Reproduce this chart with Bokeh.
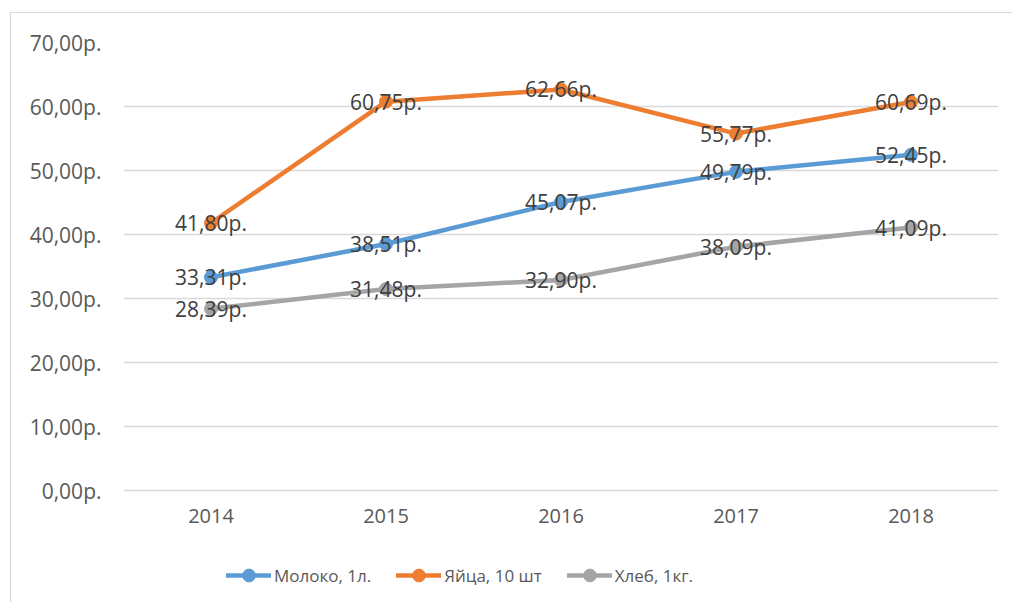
from bokeh.plotting import figure
from bokeh.models import (ColumnDataSource, Range1d, FixedTicker, Legend, LegendItem)
from bokeh.core.properties import value
from bokeh.embed import file_html
from bokeh.resources import INLINE

years = ["2014", "2015", "2016", "2017", "2018"]
milk = [33.31, 38.51, 45.07, 49.79, 52.45]
eggs = [41.80, 60.75, 62.66, 55.77, 60.69]
bread = [28.39, 31.48, 32.90, 38.09, 41.09]
series_names = ["Молоко, 1л.", "Яйца, 10 шт", "Хлеб, 1кг."]
colors = ["#5B9BD5", "#ED7D31", "#A5A5A5"]
y_ticks = [0, 10, 20, 30, 40, 50, 60, 70]

def rub(v):
    return f"{v:.2f}".replace(".", ",") + "р."

FONT = "Open Sans"
H = 590
TOP = 29
PX_PER_UNIT = 6.4
y_low = 70 - (H - TOP) / PX_PER_UNIT   # frame reaches the bottom, room for axis + legend

p = figure(x_range=years, y_range=Range1d(y_low, 70), width=1002, height=H,
           output_backend="svg", toolbar_location=None,
           min_border_left=112, min_border_right=15, min_border_top=TOP, min_border_bottom=0)
p.styles = {"margin-left": "10px", "margin-top": "12px",
            "border-left": "1px solid #D9D9D9", "border-top": "1px solid #D9D9D9"}
p.outline_line_color = None
p.background_fill_color = "white"
p.border_fill_color = "white"

p.xgrid.grid_line_color = None
p.ygrid.grid_line_color = "#D9D9D9"
p.ygrid.grid_line_width = 1.3

p.yaxis.ticker = FixedTicker(ticks=y_ticks)
p.yaxis.major_label_overrides = {t: rub(t) for t in y_ticks}
for ax in (p.xaxis[0], p.yaxis[0]):
    ax.axis_line_color = None
    ax.major_tick_line_color = None
    ax.minor_tick_line_color = None
    ax.major_tick_out = 0
    ax.major_tick_in = 0
    ax.major_label_text_font = FONT
    ax.major_label_text_color = "#595959"
p.yaxis.major_label_text_font_size = "21px"
p.xaxis.major_label_text_font_size = "20px"
p.yaxis.major_label_standoff = 22
p.xaxis.major_label_standoff = 18
p.xaxis.fixed_location = 0

items = []
for name, vals, col in zip(series_names, [milk, eggs, bread], colors):
    src = ColumnDataSource(dict(x=years, y=vals))
    l = p.line("x", "y", source=src, line_color=col, line_width=4.5, line_cap="round", line_join="round")
    s = p.scatter("x", "y", source=src, size=13, fill_color=col, line_color=col)
    items.append(LegendItem(label=name, renderers=[l, s]))

for vals in [milk, eggs, bread]:
    src = ColumnDataSource(dict(x=years, y=vals, lab=[rub(v) for v in vals]))
    p.text("x", "y", text="lab", source=src, text_align="center", text_baseline="middle",
           text_font=value(FONT), text_font_size="21px", text_color="#404040")

legend = Legend(items=items, orientation="horizontal", location=(103, 12),
                glyph_width=45, glyph_height=32, label_standoff=3, spacing=25,
                padding=0, margin=0, border_line_color=None,
                label_text_font=FONT, label_text_font_size="17px",
                label_text_color="#595959", background_fill_alpha=0)
p.add_layout(legend, "center")

open("out.html", "w").write(file_html(p, INLINE))
